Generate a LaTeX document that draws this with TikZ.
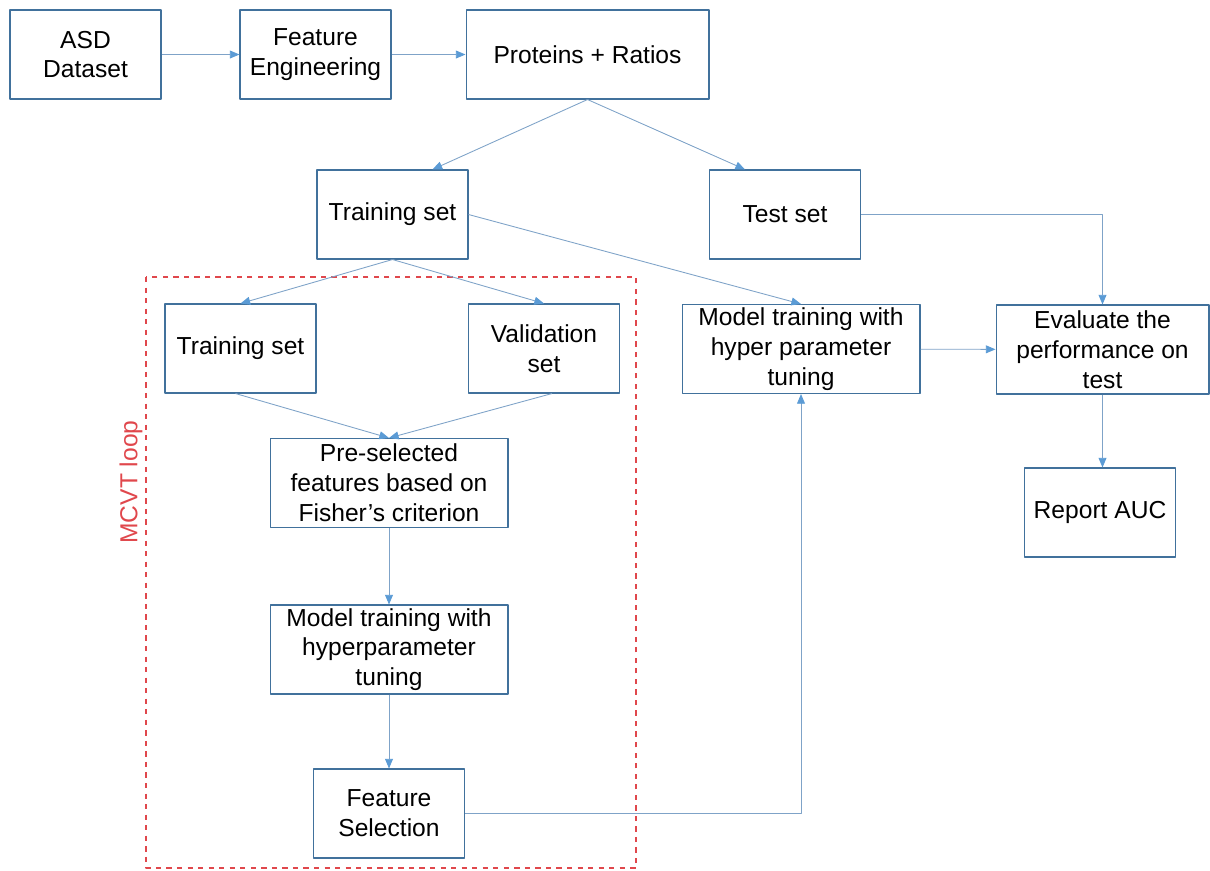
\documentclass[tikz,border=0pt]{standalone}
\usepackage{fontspec}
\setmainfont{Liberation Sans}
\usetikzlibrary{calc, arrows.meta}
\definecolor{boxline}{HTML}{41719C}
\definecolor{arrline}{HTML}{7FA3C8}
\definecolor{arrtip}{HTML}{5B9BD5}
\definecolor{loopred}{HTML}{E0474C}
\begin{document}
\begin{tikzpicture}[x=0.02cm, y=-0.02cm, font=\fontsize{14}{17}\selectfont, line join=round,
	>={Triangle[length=5.5pt, width=4.5pt, color=arrtip]},
	box/.style={draw=boxline, line width=0.6pt, align=center, inner sep=0pt, minimum height=1.78cm},
	smallbox/.style={box, minimum width=3.02cm},
	widebox/.style={box, minimum width=4.76cm},
	conn/.style={draw=arrline, line width=0.5pt, ->}]
	\useasboundingbox (0,0) rectangle (1210,870);
	% top row
	\path
	(85.5,54.5) node[smallbox] (asd) {ASD\\Dataset}
	(315.5,54.5) node[smallbox] (feat) {Feature\\Engineering}
	(587.5,54.5) node[box, minimum width=4.86cm] (prot) {Proteins + Ratios}
	(392.5,214.5) node[smallbox] (train) {Training set}
	(785,214.5) node[smallbox] (test) {Test set}
	;
	% MCVT loop
	\draw[loopred, dashed, line width=0.6pt] (146,277) rectangle (636,868);
	\node[loopred, rotate=90] (loop) at (131,482) {MCVT loop};
	\path
	(240.5,348.5) node[smallbox] (subtrain) {Training set}
	(544,348.5) node[smallbox] (valid) {Validation\\set}
	(389,483) node[widebox] (presel) {Pre-selected\\features based on\\Fisher’s criterion}
	(389,649.5) node[widebox] (inner) {Model training with\\hyperparameter\\tuning}
	(389,813.5) node[smallbox] (fsel) {Feature\\Selection}
	;
	% right part
	\path
	(801,349) node[widebox] (model) {Model training with\\hyper parameter\\tuning}
	(1102.5,349.5) node[box, minimum width=4.26cm] (eval) {Evaluate the\\performance on\\test}
	(1100,512.5) node[smallbox] (auc) {Report AUC}
	;
	% connectors
	\draw[conn] (asd) -- (feat);
	\draw[conn] (feat) -- (prot);
	\draw[conn] (prot.south) -- ([xshift=0.8cm]train.north);
	\draw[conn] (prot.south) -- ([xshift=-0.8cm]test.north);
	\draw[conn] (train.east) -- (model.north);
	\draw[conn] (train.south) -- (subtrain.north);
	\draw[conn] (train.south) -- (valid.north);
	\draw[conn] ([xshift=-0.1cm]subtrain.south) -- (presel.north);
	\draw[conn] ([xshift=0.16cm]valid.south) -- (presel.north);
	\draw[conn] (presel) -- (inner);
	\draw[conn] (inner) -- (fsel);
	\draw[conn] (fsel.east) -| (model.south);
	\draw[conn] (model) -- (eval);
	\draw[conn] (test.east) -| (eval.north);
	\draw[conn] (eval.south) -- (eval.south |- auc.north);
\end{tikzpicture}
\end{document}
